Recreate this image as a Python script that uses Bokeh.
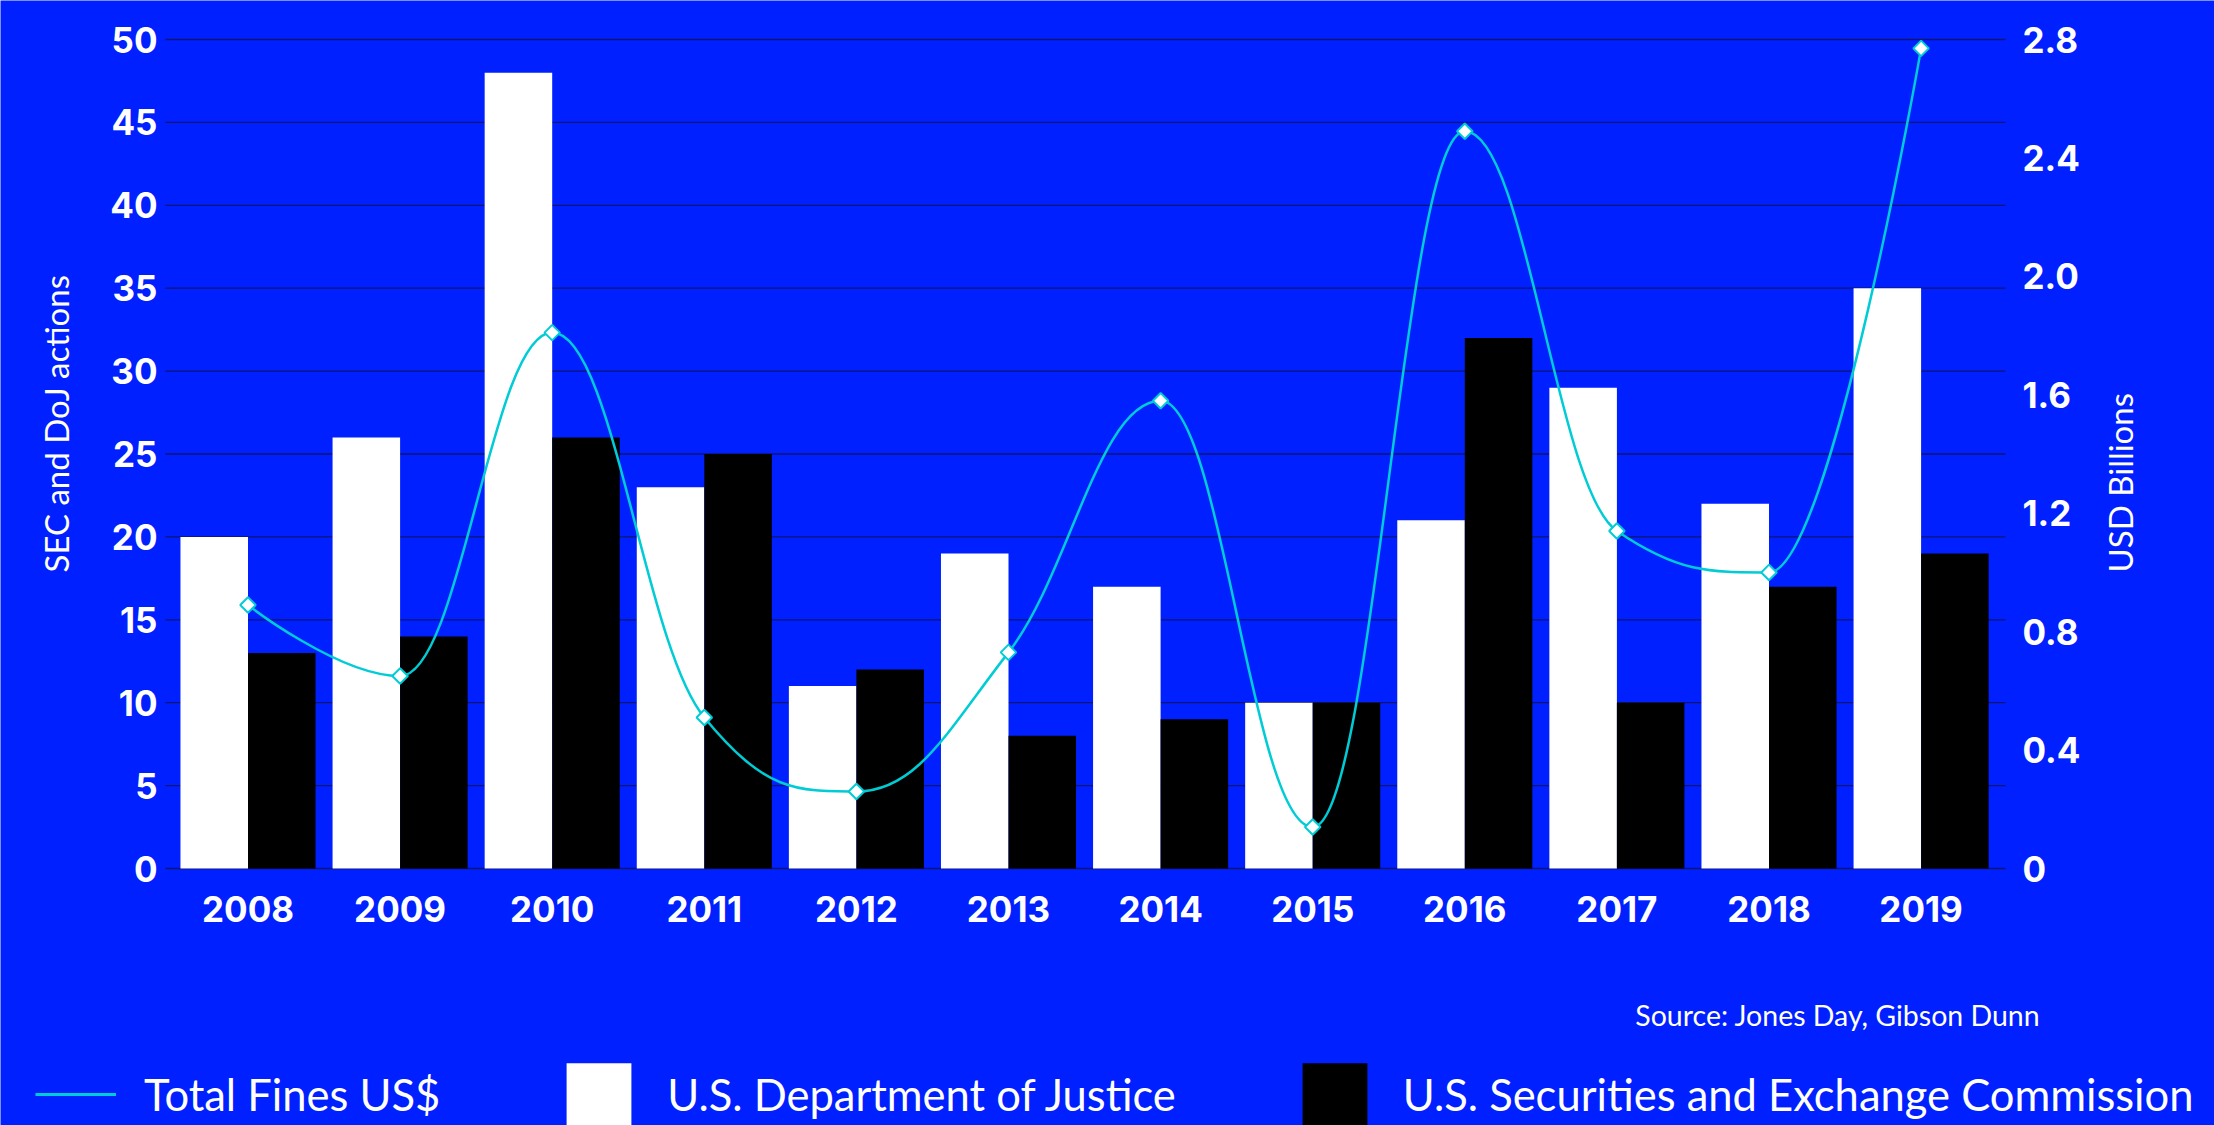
import math
from bokeh.plotting import figure
from bokeh.models import (Range1d, LinearAxis, FixedTicker, ColumnDataSource, Legend,
                          LegendItem, Label, CustomJSTickFormatter)
from bokeh.transform import dodge
from bokeh.embed import file_html
from bokeh.resources import INLINE

# ---------------- data ----------------
years = ["2008", "2009", "2010", "2011", "2012", "2013",
         "2014", "2015", "2016", "2017", "2018", "2019"]
doj_actions = [20, 26, 48, 23, 11, 19, 17, 10, 21, 29, 22, 35]
sec_actions = [13, 14, 26, 25, 12, 8, 9, 10, 32, 10, 17, 19]
total_fines_bn = [0.89, 0.65, 1.81, 0.51, 0.26, 0.73, 1.58, 0.14, 2.49, 1.14, 1.00, 2.77]
left_ticks = [0, 5, 10, 15, 20, 25, 30, 35, 40, 45, 50]
right_ticks = [0, 0.4, 0.8, 1.2, 1.6, 2.0, 2.4, 2.8]
series_names = ["Total Fines US$", "U.S. Department of Justice",
                "U.S. Securities and Exchange Commission"]
axis_titles = ["SEC and DoJ actions", "USD Billions"]
source_note = "Source: Jones Day, Gibson Dunn"

# ---------------- styles / layout ----------------
BG = "#0020FF"
GRID = "#0d1570"
CYAN = "#00CCD6"
TICK_FONT = "Inter"
TEXT_FONT = "Lato"

W, H = 2214, 1125
CX0 = 247.5      # pixel x of first category centre
PX = 152.1       # pixels per category
Y0PX = 868.0     # pixel y of value 0
PY = 16.58       # pixels per action

def xd(px):
    return (px - CX0) / PX

def yd(py):
    return (Y0PX - py) / PY

PL, PR = xd(165), xd(2005)          # plot-area edges (data units)
FS = right_ticks[-1] / left_ticks[-1]

idx = list(range(len(years)))
src = ColumnDataSource(dict(x=idx, doj=doj_actions, sec=sec_actions, fines=total_fines_bn))

y_lo, y_hi = yd(H), yd(0)
p = figure(width=W, height=H, output_backend="svg", toolbar_location=None,
           x_range=Range1d(xd(0), xd(W)), y_range=Range1d(y_lo, y_hi),
           min_border=0, min_border_left=0, min_border_right=0,
           min_border_top=0, min_border_bottom=0,
           background_fill_color=BG, border_fill_color=BG, outline_line_color=None)
p.extra_y_ranges = {"fines": Range1d(y_lo * FS, y_hi * FS)}
p.xgrid.visible = False
p.ygrid.visible = False

# axes (drawn at fixed locations on the plot-area edges)
xax = p.xaxis[0]
xax.fixed_location = 0
xax.ticker = FixedTicker(ticks=idx)
xax.major_label_overrides = {i: y for i, y in zip(idx, years)}
xax.major_label_standoff = 27

yax = p.yaxis[0]
yax.fixed_location = PL
yax.ticker = FixedTicker(ticks=left_ticks)
yax.major_label_standoff = 8

rax = LinearAxis(y_range_name="fines", fixed_location=PR, ticker=FixedTicker(ticks=right_ticks),
                 formatter=CustomJSTickFormatter(code="return tick == 0 ? '0' : tick.toFixed(1);"))
rax.major_label_standoff = 17
p.add_layout(rax, "right")

for ax in (xax, yax, rax):
    ax.axis_line_color = None
    ax.major_tick_line_color = None
    ax.minor_tick_line_color = None
    ax.major_tick_out = 0
    ax.major_tick_in = 0
    ax.major_label_text_color = "white"
    ax.major_label_text_font = TICK_FONT
    ax.major_label_text_font_style = "bold"
    ax.major_label_text_font_size = "35px"

# horizontal grid lines at the left-axis ticks, across the plot area
p.segment(x0=PL, x1=PR, y0=left_ticks, y1=left_ticks, line_color=GRID, line_width=1.3,
          level="underlay")

# bars
r_doj = p.vbar(x=dodge("x", -0.222, range=p.x_range), top="doj", width=0.444, source=src,
               fill_color="white", line_color=None)
r_sec = p.vbar(x=dodge("x", 0.222, range=p.x_range), top="sec", width=0.444, source=src,
               fill_color="black", line_color=None)

# spline (Highcharts-style control points computed from the data points)
n = len(idx)
sm = 1.5
den = sm + 1
lc = [None] * n
rc = [None] * n
for i in range(n):
    px_, py_ = idx[i], total_fines_bn[i]
    if 0 < i < n - 1:
        lx, ly = idx[i - 1], total_fines_bn[i - 1]
        nx, ny = idx[i + 1], total_fines_bn[i + 1]
        lcx = (sm * px_ + lx) / den
        lcy = (sm * py_ + ly) / den
        rcx = (sm * px_ + nx) / den
        rcy = (sm * py_ + ny) / den
        corr = (rcy - lcy) * (rcx - px_) / (rcx - lcx) + py_ - rcy
        lcy += corr
        rcy += corr
        if lcy > ly and lcy > py_:
            lcy = max(ly, py_); rcy = 2 * py_ - lcy
        elif lcy < ly and lcy < py_:
            lcy = min(ly, py_); rcy = 2 * py_ - lcy
        if rcy > ny and rcy > py_:
            rcy = max(ny, py_); lcy = 2 * py_ - rcy
        elif rcy < ny and rcy < py_:
            rcy = min(ny, py_); lcy = 2 * py_ - rcy
        lc[i] = (lcx, lcy)
        rc[i] = (rcx, rcy)
    else:
        lc[i] = (px_, py_)
        rc[i] = (px_, py_)

bz = ColumnDataSource(dict(
    x0=[idx[i - 1] for i in range(1, n)], y0=[total_fines_bn[i - 1] for i in range(1, n)],
    x1=[idx[i] for i in range(1, n)], y1=[total_fines_bn[i] for i in range(1, n)],
    cx0=[rc[i - 1][0] for i in range(1, n)], cy0=[rc[i - 1][1] for i in range(1, n)],
    cx1=[lc[i][0] for i in range(1, n)], cy1=[lc[i][1] for i in range(1, n)],
))
p.bezier(x0="x0", y0="y0", x1="x1", y1="y1", cx0="cx0", cy0="cy0", cx1="cx1", cy1="cy1",
         source=bz, line_color=CYAN, line_width=2.5, y_range_name="fines")
p.scatter(x="x", y="fines", source=src, marker="square", size=11, angle=math.pi / 4,
          fill_color="white", line_color=CYAN, line_width=2, y_range_name="fines")
# legend proxy for the line series (not drawn on the plot itself)
r_line = p.line(x="x", y="fines", source=src, y_range_name="fines",
                line_color=CYAN, line_width=3, visible=False)

# axis titles
for txt, xpx in ((axis_titles[0], 55), (axis_titles[1], 2119)):
    p.add_layout(Label(x=xd(xpx), y=yd(572), text=txt, angle=math.pi / 2,
                       text_align="left", text_baseline="middle", text_color="white",
                       text_font=TEXT_FONT, text_font_size="33px"))

# source note
p.add_layout(Label(x=xd(2040), y=yd(1014), text=source_note, text_align="right",
                   text_baseline="middle", text_color="white", text_font=TEXT_FONT,
                   text_font_size="28.5px"))

# legend
legend = Legend(items=[LegendItem(label=series_names[0], renderers=[r_line]),
                       LegendItem(label=series_names[1], renderers=[r_doj]),
                       LegendItem(label=series_names[2], renderers=[r_sec])],
                location=(35, -8), orientation="horizontal",
                glyph_width=81, glyph_height=78, label_standoff=28, spacing=118,
                padding=0, margin=0, border_line_alpha=0, background_fill_alpha=0,
                inactive_fill_alpha=0,
                label_text_font=TEXT_FONT, label_text_font_size="43.5px",
                label_text_color="white")
p.add_layout(legend, "center")

open("out.html", "w").write(file_html(p, INLINE))
